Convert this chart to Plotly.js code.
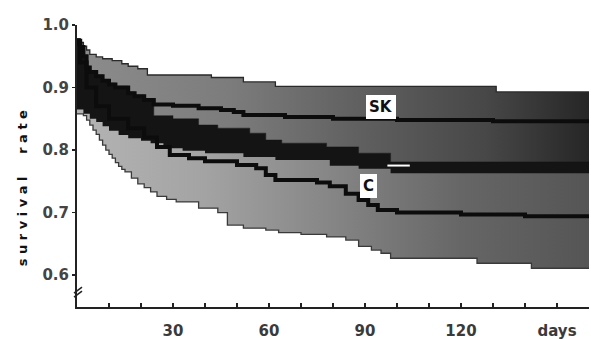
<!DOCTYPE html>
<html>
<head>
<meta charset="utf-8">
<script src="https://cdn.plot.ly/plotly-3.0.1.min.js"></script>
<style>html,body{margin:0;padding:0;background:#fff;}#chart{width:591px;height:339px;}</style>
</head>
<body>
<div id="chart"></div>
<script>
// ---- data (days, survival rate), step functions ----
const skUpperDays = [0, 1, 2, 3, 4, 6, 8, 11, 14, 16, 19, 22, 42, 52, 62, 131, 160];
const skUpperVals = [0.978, 0.972, 0.966, 0.96, 0.953, 0.949, 0.946, 0.943, 0.938, 0.934, 0.93, 0.92, 0.916, 0.909, 0.902, 0.893, 0.893];

const skLineDays = [0, 1, 2, 3, 4, 6, 8, 10, 12, 16, 18, 21, 24, 30, 38, 45, 49, 52, 65, 80, 100, 130, 160];
const skLineVals = [0.975, 0.965, 0.95, 0.932, 0.925, 0.918, 0.911, 0.905, 0.9, 0.891, 0.886, 0.88, 0.873, 0.871, 0.867, 0.864, 0.861, 0.856, 0.853, 0.85, 0.848, 0.846, 0.845];

const skLowerDays = [0, 2, 4, 6, 8, 10, 13, 16, 20, 23, 27, 33, 40, 52, 62, 79, 88, 98, 160];
const skLowerVals = [0.865, 0.858, 0.85, 0.845, 0.838, 0.831, 0.824, 0.819, 0.815, 0.811, 0.803, 0.799, 0.795, 0.789, 0.784, 0.775, 0.77, 0.763, 0.762];

const cUpperDays = [0, 1, 2, 3, 4, 6, 8, 10, 12, 16, 18, 21, 24, 30, 38, 44, 54, 59, 64, 78, 88, 98, 160];
const cUpperVals = [0.976, 0.966, 0.951, 0.934, 0.927, 0.92, 0.913, 0.907, 0.902, 0.893, 0.888, 0.882, 0.855, 0.85, 0.84, 0.835, 0.827, 0.816, 0.811, 0.805, 0.795, 0.781, 0.78];

const cLineDays = [0, 1, 3, 6, 10, 16, 21, 25, 29, 35, 40, 50, 56, 59, 62, 75, 79, 84, 88, 91, 94, 100, 120, 140, 160];
const cLineVals = [0.97, 0.94, 0.9, 0.87, 0.85, 0.835, 0.82, 0.805, 0.792, 0.787, 0.782, 0.776, 0.771, 0.76, 0.752, 0.748, 0.742, 0.73, 0.72, 0.712, 0.704, 0.70, 0.697, 0.694, 0.692];

const cLowerDays = [0, 2, 3, 4, 5, 6, 7, 8, 9, 10, 11, 12, 13, 14, 15, 17, 19, 21, 23, 25, 28, 31, 38, 44, 47, 52, 59, 63, 70, 78, 84, 88, 92, 95, 98, 125, 142, 160];
const cLowerVals = [0.858, 0.855, 0.848, 0.84, 0.832, 0.825, 0.816, 0.808, 0.8, 0.793, 0.787, 0.78, 0.774, 0.769, 0.765, 0.755, 0.746, 0.74, 0.733, 0.726, 0.721, 0.717, 0.707, 0.70, 0.68, 0.675, 0.672, 0.668, 0.665, 0.661, 0.656, 0.646, 0.64, 0.635, 0.627, 0.619, 0.611, 0.611];

const xTickVals = [30, 60, 90, 120, 150];
const xTickText = ['30', '60', '90', '120', 'days'];
const yTickVals = [0.6, 0.7, 0.8, 0.9, 1.0];
const yTickText = ['0.6', '0.7', '0.8', '0.9', '1.0'];

const groupLabels = ['SK', 'C'];
const labelDays = [95, 91];
const labelVals = [0.869, 0.742];

// ---- traces ----
const base = {type: 'scatter', mode: 'lines', hoverinfo: 'skip', showlegend: false};
const hv = (w, c) => ({shape: 'hv', width: w, color: c});

const traces = [
  Object.assign({}, base, {x: skLowerDays, y: skLowerVals, line: hv(0, 'rgba(0,0,0,0)')}),
  Object.assign({}, base, {x: skUpperDays, y: skUpperVals, line: hv(1.3, '#2a2a2a'), fill: 'tonexty',
    fillcolor: '#777777',
    fillgradient: {type: 'horizontal', colorscale: [[0, '#8c8c8c'], [0.3, '#7c7c7c'], [0.55, '#606060'], [0.8, '#474747'], [1, '#262626']]}}),
  Object.assign({}, base, {x: cLowerDays, y: cLowerVals, line: hv(1.3, '#3a3a3a')}),
  Object.assign({}, base, {x: cUpperDays, y: cUpperVals, line: hv(0, 'rgba(0,0,0,0)'), fill: 'tonexty',
    fillcolor: '#9a9a9a',
    fillgradient: {type: 'horizontal', colorscale: [[0, '#b4b4b4'], [0.25, '#a3a3a3'], [0.5, '#858585'], [0.75, '#666666'], [1, '#555555']]}}),
  Object.assign({}, base, {x: skLowerDays, y: skLowerVals, line: hv(0, 'rgba(0,0,0,0)')}),
  Object.assign({}, base, {x: cUpperDays, y: cUpperVals, line: hv(0.5, '#141414'), fill: 'tonexty', fillcolor: '#141414'}),
  Object.assign({}, base, {x: skLineDays, y: skLineVals, line: hv(4, '#0c0c0c')}),
  Object.assign({}, base, {x: cLineDays, y: cLineVals, line: hv(4, '#0c0c0c')})
];

const fontFam = '"DejaVu Sans", "Liberation Sans", Arial, sans-serif';

const annotations = groupLabels.map((t, i) => ({
  x: labelDays[i], y: labelVals[i], xref: 'x', yref: 'y', text: t, showarrow: false,
  font: {family: fontFam, size: 15, color: '#111', weight: 'bold'},
  bgcolor: '#ffffff', borderpad: 3, borderwidth: 0
}));
annotations.push({
  x: -55 / 512, xref: 'paper', y: 0.739, yref: 'y', textangle: -90, showarrow: false,
  text: 's u r v i v a l \u00a0\u00a0\u00a0\u00a0r a t e',
  font: {family: fontFam, size: 13, color: '#111', weight: 'bold'},
  xanchor: 'center', yanchor: 'middle'
});

const layout = {
  width: 591, height: 339,
  margin: {l: 77, r: 2, t: 25, b: 32, pad: 0},
  paper_bgcolor: '#ffffff', plot_bgcolor: '#ffffff',
  showlegend: false,
  xaxis: {
    range: [0, 160], showgrid: false, zeroline: false,
    showline: true, linecolor: '#222', linewidth: 2,
    tickmode: 'array', tickvals: xTickVals, ticktext: xTickText,
    ticks: 'inside', ticklen: 4, tickwidth: 1.5, tickcolor: '#222',
    ticklabelstandoff: 9,
    minor: {tick0: 0, dtick: 10, ticks: 'inside', ticklen: 4, tickwidth: 1.5, tickcolor: '#222', showgrid: false},
    tickfont: {family: fontFam, size: 15, color: '#3a3a3a', weight: 'bold'}
  },
  yaxis: {
    range: [0.549, 1.0], showgrid: false, zeroline: false,
    showline: true, linecolor: '#222', linewidth: 2,
    tickmode: 'array', tickvals: yTickVals, ticktext: yTickText,
    ticks: 'outside', ticklen: 3, tickwidth: 1.5, tickcolor: '#222',
    tickfont: {family: fontFam, size: 15, color: '#444', weight: 'bold'}
  },
  annotations: annotations,
  shapes: [
    {type: 'line', xref: 'paper', yref: 'y', x0: -3 / 512, x1: 5 / 512, y0: 0.5648, y1: 0.5744, line: {color: '#222', width: 1.5}},
    {type: 'line', xref: 'paper', yref: 'y', x0: -3 / 512, x1: 5 / 512, y0: 0.5712, y1: 0.5808, line: {color: '#222', width: 1.5}},
    {type: 'line', xref: 'x', yref: 'y', x0: 97, x1: 104, y0: 0.7752, y1: 0.7752, line: {color: '#ffffff', width: 2}}
  ]
};

Plotly.newPlot('chart', traces, layout, {staticPlot: true, displayModeBar: false});
</script>
</body>
</html>
